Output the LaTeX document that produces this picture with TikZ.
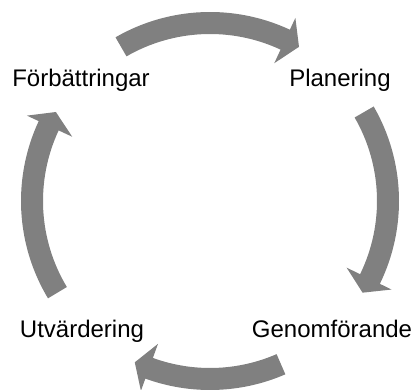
\documentclass[tikz,border=0pt]{standalone}
\usepackage{fontspec}
\setmainfont{Liberation Sans}
\usepackage{tikz}

\definecolor{pilgra}{RGB}{128,128,128}

\begin{document}
\begin{tikzpicture}[x = 1pt, y = 1pt,
    pil/.style = {fill = pilgra},
    etikett/.style = {font = \fontsize{24}{28}\selectfont, anchor = base, inner sep = 0pt}]
        \useasboundingbox (0,0) rectangle (420,390);
        \coordinate (mitt) at (210,189);

        % svans / bakkant / spets
        \foreach \a/\b/\c in {120/65/60, 30/-26/-31, -66.5/-110/-115, 211/155/150}
          \fill[pil, shift = {(mitt)}] (\a:189) arc[start angle = \a, end angle = \b, radius = 189]
               -- (\b:202) -- (\c:178) -- (\b:152) -- (\b:167)
               arc[start angle = \b, end angle = \a, radius = 167] -- cycle;

        \node[etikett] (forb) at (81,303) {Förbättringar};
        \node[etikett] (plan) at (340,303) {Planering};
        \node[etikett] (utv)  at (82,52)  {Utvärdering};
        \node[etikett] (genf) at (332,52) {Genomförande};
      \end{tikzpicture}
\end{document}
